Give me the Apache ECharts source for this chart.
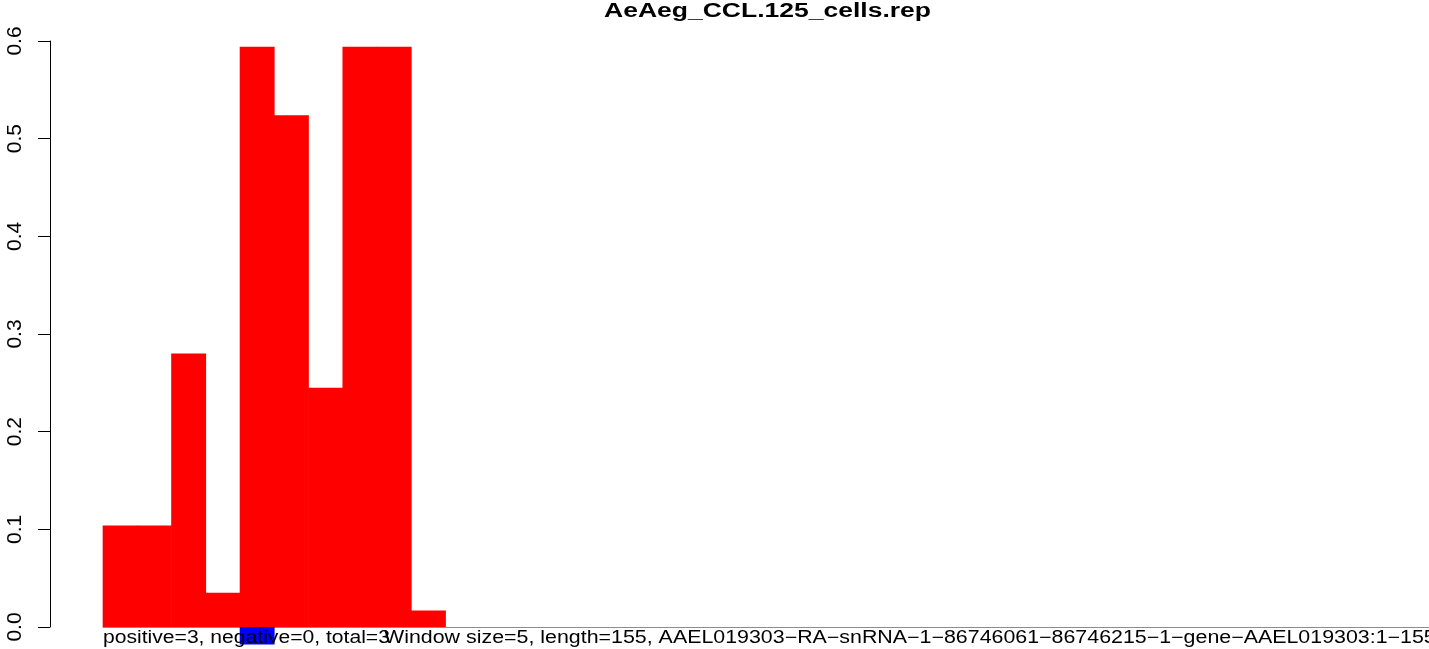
<!DOCTYPE html>
<html>
<head>
<meta charset="utf-8">
<script src="https://cdn.jsdelivr.net/npm/echarts@6/dist/echarts.min.js"></script>
<style>
html,body{margin:0;padding:0;background:#fff;}
#chart{width:1429px;height:649px;}
</style>
</head>
<body>
<div id="chart"></div>
<script>
// ---- data ----
const titleText = 'AeAeg_CCL.125_cells.rep';
const countsText = 'positive=3, negative=0, total=3';
const infoText = 'Window size=5, length=155, AAEL019303\u2212RA\u2212snRNA\u22121\u221286746061\u221286746215\u22121\u2212gene\u2212AAEL019303:1\u2212155';
const nWindows = 39;
const categories = Array.from({length: nWindows}, (_, i) => String(i + 1));
const positiveValues = [0.104, 0.104, 0.280, 0.035, 0.594, 0.524, 0.245, 0.594, 0.594, 0.017];
const negativeValues = [0, 0, 0, 0, -0.018, 0, 0, 0, 0, 0];
const yTicks = [0.0, 0.1, 0.2, 0.3, 0.4, 0.5, 0.6];

const FONT = "'Liberation Sans', Arial, Helvetica, sans-serif";
const chart = echarts.init(document.getElementById('chart'), null, {renderer: 'canvas'});
chart.setOption({
  backgroundColor: '#ffffff',
  animation: false,
  grid: {left: 103, right: -10, top: 41, bottom: 22, containLabel: false, outerBoundsMode: 'none'},
  xAxis: {
    type: 'category',
    data: categories,
    boundaryGap: true,
    axisLine: {show: true, lineStyle: {color: '#8c8c8c', width: 1}},
    axisTick: {show: false},
    axisLabel: {show: false},
    splitLine: {show: false}
  },
  yAxis: {
    type: 'value',
    min: yTicks[0],
    max: yTicks[yTicks.length - 1],
    interval: 0.1,
    offset: 53,
    axisLine: {show: true, lineStyle: {color: '#000', width: 1}},
    axisTick: {show: true, length: 12, lineStyle: {color: '#000', width: 1}},
    axisLabel: {
      show: true, rotate: 90, margin: 24,
      fontFamily: FONT, fontSize: 21, color: '#000',
      formatter: v => v.toFixed(1)
    },
    splitLine: {show: false}
  },
  series: [
    {
      type: 'bar', name: 'positive', data: positiveValues,
      barWidth: 34.9, barGap: '-100%', clip: false,
      itemStyle: {color: '#ff0000'}
    },
    {
      type: 'bar', name: 'negative', data: negativeValues,
      barWidth: 34.9, barGap: '-100%', clip: false,
      itemStyle: {color: '#0000ff'}
    }
  ],
  graphic: [
    {
      type: 'text', x: 767.5, y: 11.5, scaleX: 1.325, z: 100,
      style: {text: titleText, x: 0, y: 0, align: 'center', verticalAlign: 'middle',
        font: "bold 20px " + FONT, fill: '#000'}
    },
    {
      type: 'text', x: 103, y: 638, scaleX: 1.206, z: 100,
      style: {text: countsText, x: 0, y: 0, align: 'left', verticalAlign: 'middle',
        font: "17.5px " + FONT, fill: '#000'}
    },
    {
      type: 'text', x: 384, y: 638, scaleX: 1.222, z: 100,
      style: {text: infoText, x: 0, y: 0, align: 'left', verticalAlign: 'middle',
        font: "17.5px " + FONT, fill: '#000'}
    }
  ]
});
</script>
</body>
</html>
